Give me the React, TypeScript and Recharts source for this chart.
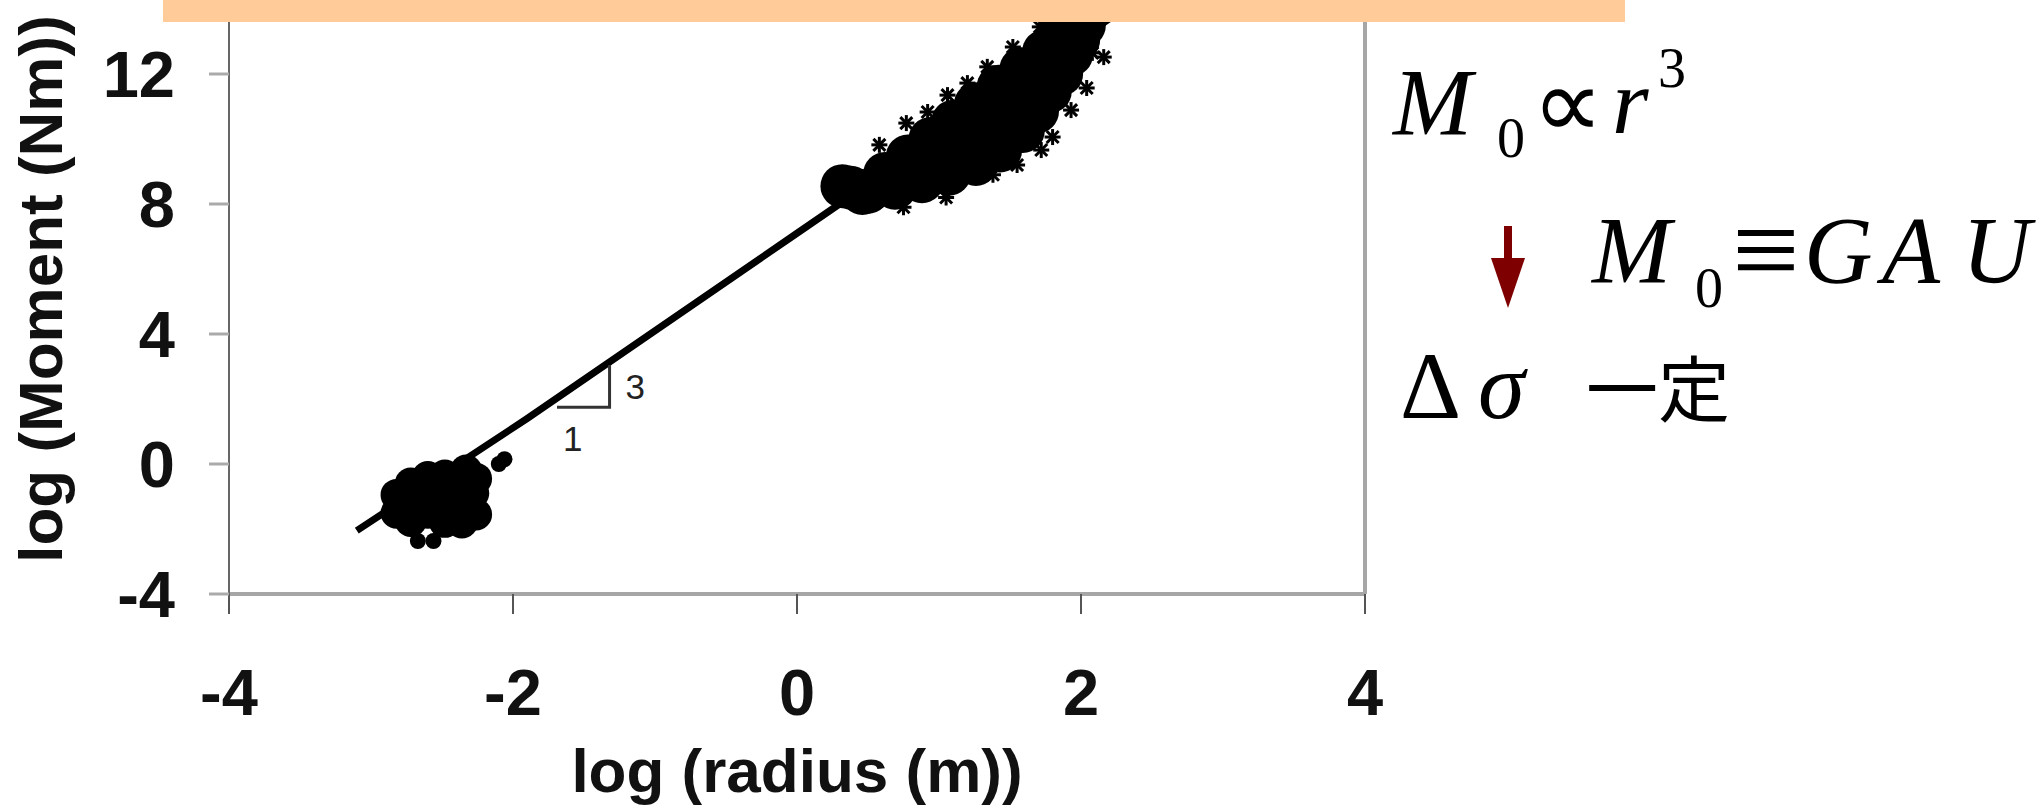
import { ScatterChart, Scatter, XAxis, YAxis, ReferenceLine } from 'recharts'

const xTicks = [-4, -2, 0, 2, 4]
const yTicks = [-4, 0, 4, 8, 12]

// fitted line, M0 ~ r^3
const trendLine = [
  { x: -3.1, y: -2.05 },
  { x: -1.9, y: 1.4 },
  { x: 0, y: 7.1 },
  { x: 2.4, y: 14.3 },
]

// large events (upper cloud), read row by row along the cloud
const upperCluster = [
  { x: 0.32, y: 8.55 }, { x: 0.38, y: 8.5 },
  // upper row
  { x: 0.46, y: 8.4 }, { x: 0.62, y: 8.92 }, { x: 0.78, y: 9.46 }, { x: 0.94, y: 10.0 },
  { x: 1.1, y: 10.53 }, { x: 1.26, y: 11.07 }, { x: 1.42, y: 11.61 }, { x: 1.58, y: 12.15 },
  { x: 1.74, y: 12.69 }, { x: 1.84, y: 13.3 },
  // middle row
  { x: 0.46, y: 8.34 }, { x: 0.67, y: 8.8 }, { x: 0.88, y: 9.26 }, { x: 1.07, y: 9.63 },
  { x: 1.25, y: 10.0 }, { x: 1.42, y: 10.65 }, { x: 1.59, y: 11.34 }, { x: 1.72, y: 11.95 },
  { x: 1.84, y: 12.55 }, { x: 1.95, y: 13.2 },
  // lower row
  { x: 0.5, y: 8.38 }, { x: 0.69, y: 8.5 }, { x: 0.88, y: 8.7 }, { x: 1.07, y: 8.93 },
  { x: 1.26, y: 9.23 }, { x: 1.43, y: 9.65 }, { x: 1.59, y: 10.25 }, { x: 1.69, y: 10.85 },
  { x: 1.78, y: 11.47 }, { x: 1.86, y: 12.0 }, { x: 1.93, y: 12.6 }, { x: 1.98, y: 13.05 },
  { x: 2.02, y: 13.5 },
]

// ragged points on the edge of the upper cloud
const upperSpikes = [
  { x: 0.3, y: 8.6 }, { x: 0.58, y: 9.82 }, { x: 0.77, y: 10.49 }, { x: 0.92, y: 10.83 },
  { x: 1.06, y: 11.35 }, { x: 1.2, y: 11.72 }, { x: 1.34, y: 12.22 }, { x: 1.52, y: 12.83 },
  { x: 1.71, y: 13.45 }, { x: 1.38, y: 8.9 }, { x: 1.55, y: 9.2 }, { x: 1.72, y: 9.66 },
  { x: 1.8, y: 10.06 }, { x: 1.93, y: 10.89 }, { x: 2.04, y: 11.57 }, { x: 2.08, y: 12.65 },
  { x: 2.16, y: 12.52 }, { x: 0.75, y: 7.9 }, { x: 1.05, y: 8.2 },
]

// small events (lower cloud)
const lowerCluster = [
  { x: -2.82, y: -0.95 }, { x: -2.82, y: -1.5 }, { x: -2.72, y: -0.6 }, { x: -2.72, y: -1.2 },
  { x: -2.72, y: -1.75 }, { x: -2.6, y: -0.4 }, { x: -2.6, y: -0.95 }, { x: -2.6, y: -1.5 },
  { x: -2.5, y: -1.2 }, { x: -2.48, y: -0.35 }, { x: -2.48, y: -1.78 }, { x: -2.5, y: -0.75 },
  { x: -2.38, y: -0.7 }, { x: -2.38, y: -1.3 }, { x: -2.33, y: -0.2 }, { x: -2.28, y: -0.9 },
  { x: -2.26, y: -1.55 }, { x: -2.26, y: -0.45 }, { x: -2.36, y: -1.8 },
]

const lowerStray = [
  { x: -2.67, y: -2.37 }, { x: -2.56, y: -2.37 }, { x: -2.1, y: 0.0 }, { x: -2.06, y: 0.15 },
]

const slopeTriangle = [
  { x: -1.69, y: 1.75 },
  { x: -1.32, y: 1.75 },
  { x: -1.32, y: 3.05 },
]

const slopeLabels = [
  { x: -1.14, y: 2.37, text: '3' },
  { x: -1.58, y: 0.8, text: '1' },
]

const sans = '"Liberation Sans", Arial, sans-serif'
const serif = '"Liberation Serif", "Times New Roman", serif'

const dot = (r: number) => (props: any) => (
  <circle cx={props.cx} cy={props.cy} r={r} fill='#000' />
)

const spike = (props: any) => {
  const { cx, cy } = props
  return (
    <g stroke='#000' strokeWidth={3}>
      <line x1={cx - 8} y1={cy} x2={cx + 8} y2={cy} />
      <line x1={cx} y1={cy - 8} x2={cx} y2={cy + 8} />
      <line x1={cx - 6} y1={cy - 6} x2={cx + 6} y2={cy + 6} />
      <line x1={cx - 6} y1={cy + 6} x2={cx + 6} y2={cy - 6} />
    </g>
  )
}

const noDot = () => <g />

const slopeText = (props: any) => (
  <text
    x={props.cx}
    y={props.cy}
    textAnchor='middle'
    dominantBaseline='central'
    fontSize={35}
    fontFamily='"Liberation Sans Narrow", "Arial Narrow", "Liberation Sans", sans-serif'
    fill='#222'
  >
    {props.payload.text}
  </text>
)

const YTitle = (props: any) => {
  const vb = props.viewBox || { x: 0, y: 22, width: 229, height: 572 }
  const x = vb.x + 62
  const y = vb.y + vb.height / 2 - 19
  return (
    <text
      x={x}
      y={y}
      transform={`rotate(-90 ${x} ${y})`}
      textAnchor='middle'
      fontSize={62}
      fontWeight='bold'
      fontFamily={sans}
      fill='#111'
    >
      log (Moment (Nm))
    </text>
  )
}

export default function App() {
  return (
    <div
      style={{
        position: 'absolute',
        left: 0,
        top: 0,
        width: 2042,
        height: 810,
        background: '#fff',
        overflow: 'hidden',
      }}
    >
      <ScatterChart width={2042} height={810} margin={{ top: 22, right: 677, bottom: 0, left: 0 }}>
        <XAxis
          type='number'
          dataKey='x'
          domain={[-4, 4]}
          ticks={xTicks}
          interval={0}
          allowDataOverflow
          height={216}
          tickSize={20}
          tickMargin={55}
          axisLine={{ stroke: '#a6a6a6', strokeWidth: 4 }}
          tickLine={{ stroke: '#555', strokeWidth: 2 }}
          tick={{ fill: '#111', fontSize: 65, fontWeight: 'bold', fontFamily: sans }}
          label={{
            value: 'log (radius (m))',
            position: 'insideBottom',
            offset: 18,
            fill: '#111',
            fontSize: 62,
            fontWeight: 'bold',
            fontFamily: sans,
          }}
        />
        <YAxis
          type='number'
          dataKey='y'
          domain={[-4, 13.6]}
          ticks={yTicks}
          interval={0}
          allowDataOverflow
          width={229}
          tickSize={20}
          tickMargin={34}
          axisLine={{ stroke: '#666', strokeWidth: 2 }}
          tickLine={{ stroke: '#aaa', strokeWidth: 3 }}
          tick={{ fill: '#111', fontSize: 65, fontWeight: 'bold', fontFamily: sans }}
          label={YTitle}
        />
        <ReferenceLine x={4} stroke='#a6a6a6' strokeWidth={4} />
        <Scatter
          data={trendLine}
          line={{ stroke: '#000', strokeWidth: 7 }}
          shape={noDot}
          isAnimationActive={false}
        />
        <Scatter data={upperCluster} shape={dot(22)} isAnimationActive={false} />
        <Scatter data={upperSpikes} shape={spike} isAnimationActive={false} />
        <Scatter data={lowerCluster} shape={dot(16)} isAnimationActive={false} />
        <Scatter data={lowerStray} shape={dot(8)} isAnimationActive={false} />
        <Scatter
          data={slopeTriangle}
          line={{ stroke: '#333', strokeWidth: 3 }}
          shape={noDot}
          isAnimationActive={false}
        />
        <Scatter data={slopeLabels} shape={slopeText} isAnimationActive={false} />
      </ScatterChart>

      <div
        style={{
          position: 'absolute',
          left: 163,
          top: 0,
          width: 1462,
          height: 22,
          background: '#FFCC99',
        }}
      />

      <svg
        width={2042}
        height={810}
        style={{ position: 'absolute', left: 0, top: 0, pointerEvents: 'none' }}
      >
        <g fontFamily={serif} fill='#000'>
          <text x={1393} y={135} fontSize={95} fontStyle='italic'>M</text>
          <text x={1497} y={157} fontSize={56}>0</text>
          <text x={1532} y={138} fontSize={100}>∝</text>
          <text x={1612} y={133} fontSize={94} fontStyle='italic'>r</text>
          <text x={1658} y={87} fontSize={56}>3</text>

          <text x={1592} y={283} fontSize={95} fontStyle='italic'>M</text>
          <text x={1695} y={307} fontSize={56}>0</text>
          <text x={1732} y={290} fontSize={120}>≡</text>
          <text x={1804} y={283} fontSize={95} fontStyle='italic'>G</text>
          <text x={1882} y={283} fontSize={95} fontStyle='italic'>A</text>
          <text x={1962} y={283} fontSize={95} fontStyle='italic'>U</text>

          <text x={1400} y={418} fontSize={95}>Δ</text>
          <text x={1478} y={418} fontSize={95} fontStyle='italic'>σ</text>
        </g>
        <text
          x={1586}
          y={416}
          fontSize={72}
          fontFamily='"Noto Sans CJK JP", "Noto Sans CJK SC", sans-serif'
          fill='#000'
        >
          一定
        </text>
        <g fill='#7f0000'>
          <rect x={1504} y={226} width={8} height={34} />
          <polygon points='1491,258 1525,258 1508,308' />
        </g>
      </svg>
    </div>
  )
}
